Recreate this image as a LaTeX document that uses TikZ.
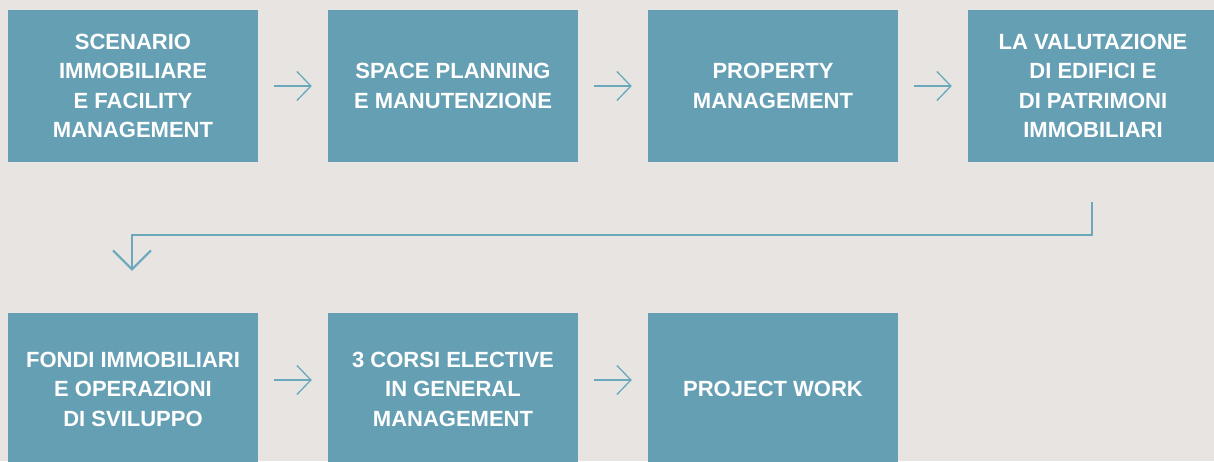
\documentclass[tikz,border=0pt]{standalone}
\usepackage{fontspec}
\setmainfont{Liberation Sans}
\usetikzlibrary{arrows.meta}
\definecolor{bgc}{HTML}{E8E4E1}
\definecolor{boxc}{HTML}{659FB4}
\definecolor{arrc}{HTML}{6AA8BC}
\tikzset{
  stepbox/.style={fill=boxc, inner sep=0pt, minimum width=250pt, minimum height=152pt,
    text=white, align=center, font=\fontsize{22}{29.5}\selectfont\bfseries},
  flowarr/.style={draw=arrc, line width=1.3pt, -{Straight Barb[length=14pt,width=29pt,line width=1.3pt]}},
  conn/.style={draw=arrc, line width=2pt, -{Straight Barb[length=19pt,width=38pt,line width=2pt]}}
}
\begin{document}
\begin{tikzpicture}[x=1pt,y=-1pt]
\useasboundingbox (0,0) rectangle (1214,461);
\fill[bgc] (0,0) rectangle (1214,461);
\clip (0,0) rectangle (1214,461);
\node[stepbox] (b1) at (133,86) {SCENARIO\\IMMOBILIARE\\E FACILITY\\MANAGEMENT};
\node[stepbox] (b2) at (453,86) {SPACE PLANNING\\E MANUTENZIONE};
\node[stepbox] (b3) at (773,86) {PROPERTY\\MANAGEMENT};
\node[stepbox] (b4) at (1093,86) {LA VALUTAZIONE\\DI EDIFICI E\\DI PATRIMONI\\IMMOBILIARI};
\node[stepbox] (b5) at (133,389) {FONDI IMMOBILIARI\\E OPERAZIONI\\DI SVILUPPO};
\node[stepbox] (b6) at (453,389) {3 CORSI ELECTIVE\\IN GENERAL\\MANAGEMENT};
\node[stepbox] (b7) at (773,389) {PROJECT WORK};
\draw[flowarr] ([xshift=16pt]b1.east) -- ([xshift=-16pt]b2.west);
\draw[flowarr] ([xshift=16pt]b2.east) -- ([xshift=-16pt]b3.west);
\draw[flowarr] ([xshift=16pt]b3.east) -- ([xshift=-16pt]b4.west);
\draw[flowarr] ([xshift=16pt,yshift=9pt]b5.east) -- ([xshift=-16pt,yshift=9pt]b6.west);
\draw[flowarr] ([xshift=16pt,yshift=9pt]b6.east) -- ([xshift=-16pt,yshift=9pt]b7.west);
\draw[conn] ([xshift=-1pt,yshift=-40pt]b4.south) |- ([xshift=-1pt,yshift=78pt]b5.north) -- ([xshift=-1pt,yshift=42pt]b5.north);
\end{tikzpicture}
\end{document}
